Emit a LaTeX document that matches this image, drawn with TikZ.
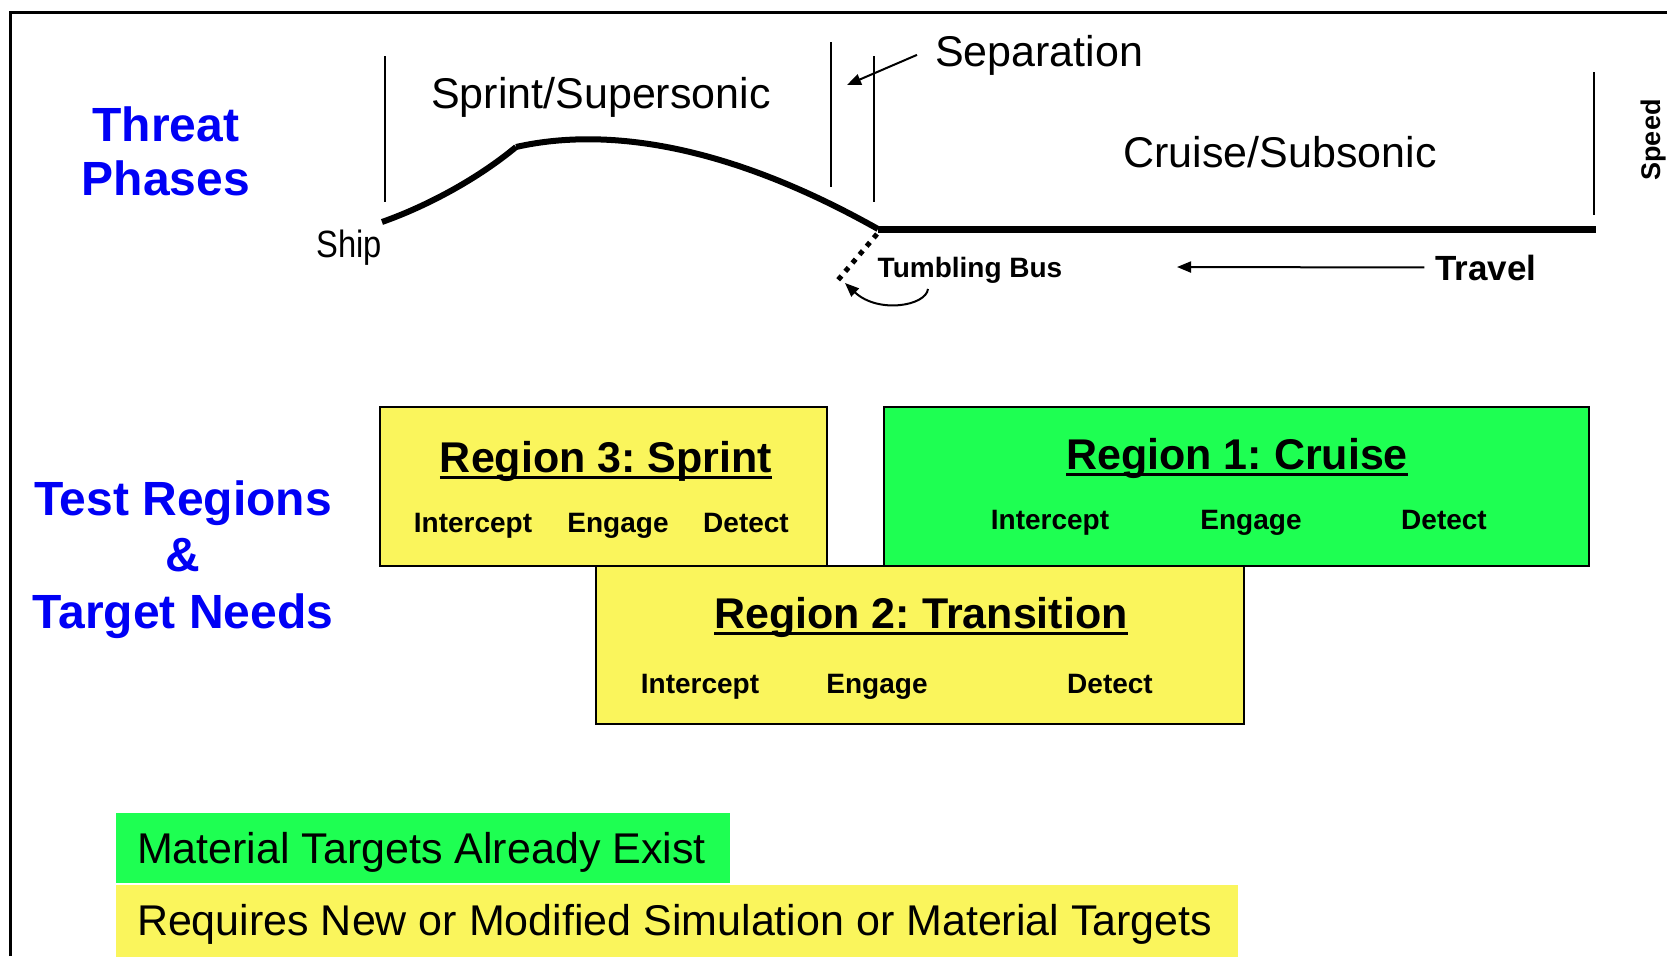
\documentclass[tikz,border=0pt]{standalone}
\usepackage{fontspec}
\setmainfont{Liberation Sans}
\usepackage{graphicx}
\usepackage{tikz}
\usetikzlibrary{arrows.meta}
\frenchspacing
\definecolor{headblue}{RGB}{0,0,245}
\definecolor{cruisegreen}{RGB}{30,255,82}
\definecolor{simyellow}{RGB}{250,245,92}
\newcommand{\phasefont}{\fontsize{43}{52}\selectfont}
\newcommand{\shipfont}{\fontsize{38}{44}\selectfont}
\newcommand{\headfont}{\fontsize{48}{54.5}\selectfont\bfseries}
\newcommand{\titlefont}{\fontsize{43}{52}\selectfont\bfseries}
\newcommand{\taskfont}{\fontsize{28}{34}\selectfont\bfseries}
\newcommand{\travelfont}{\fontsize{35}{42}\selectfont\bfseries}
\newcommand{\speedfont}{\fontsize{27}{32}\selectfont\bfseries}
\newcommand{\thickul}[1]{\setbox0=\hbox{#1}\rlap{\rule[-7pt]{\wd0}{3pt}}\box0}
\tikzstyle{txt}=[inner sep=0, outer sep=0, anchor=base]
\tikzstyle{phase}=[txt, font=\phasefont]
\tikzstyle{heading}=[inner sep=0, outer sep=0, align=center, text=headblue, font=\headfont]
\tikzstyle{marker}=[line width=1.6pt]
\tikzstyle{flight}=[line width=6pt]
\tikzstyle{pointer}=[line width=2pt, -{Triangle[length=14pt, width=11pt]}]
\tikzstyle{region}=[draw, line width=1.5pt, inner sep=0, outer sep=0]
\tikzstyle{regiontitle}=[txt, font=\titlefont]
\tikzstyle{task}=[txt, font=\taskfont]
\tikzstyle{keybox}=[inner sep=0, outer sep=0]

\begin{document}
\begin{tikzpicture}[x=1pt, y={(0pt,-1pt)}]
    \useasboundingbox (0,0) rectangle (1667,956);
    \draw[line width=3pt] (10,956) -- (10,12) -- (1667,12);

    % Row headings.
    \node[heading] (threat) at (166,151.5) {Threat\\Phases};
    \node[heading, font={\fontsize{48}{56.5}\selectfont\bfseries}] (needs) at (183,559.5) {Test Regions\\\&\\Target Needs};

    % Threat phases.
    \node[phase] (sprint)     at (601,108)  {Sprint/Supersonic};
    \node[phase] (separation) at (1039,66)  {Separation};
    \node[phase] (cruise)     at (1280,167) {Cruise/Subsonic};
    \node[txt, font=\shipfont] (ship) at (349,257) {\scalebox{0.86}[1]{Ship}};
    \node[task] (tumbling)    at (970,277)  {Tumbling Bus};
    \node[txt, font=\travelfont] (travel) at (1486,280) {Travel};
    \node[txt, font=\speedfont, rotate=90] (speed) at (1660,140) {Speed};

    \draw[marker] (385,56) -- (385,202);
    \draw[marker] (831,42) -- (831,187);
    \draw[marker] (874,56) -- (874,202);
    \draw[marker] (1594,72) -- (1594,215);

    \coordinate (launch) at (382,222);
    \coordinate (kink)   at (516,147);
    \coordinate (sep)    at (878,229);
    \coordinate (impact) at (1596,229);
    \coordinate (septip) at (847,85);
    \coordinate (bustip) at (845,283);
    \coordinate (traveltip) at (1177,267);
    \draw[flight] (launch) .. controls (430,205) and (480,177) .. (kink);
    \draw[flight] (kink) .. controls (600,128) and (720,140) .. (sep);
    \draw[flight, line width=7pt] (sep) -- (impact);
    \draw[line width=5pt, dash pattern=on 5pt off 6pt] (877,234) -- (838,280);

    \draw[pointer] ([xshift=-18pt]separation.west) -- (septip);
    \draw[pointer] ([xshift=-11pt]travel.west) -- (traveltip);
    \draw[pointer] ([xshift=-42pt,yshift=-6pt]tumbling.south) .. controls (926,306) and (878,314) .. (bustip);

    % Test regions.
    \node[region, fill=simyellow,   minimum width=447pt, minimum height=159pt] (R3) at (603.5,486.5) {};
    \node[region, fill=cruisegreen, minimum width=705pt, minimum height=159pt] (R1) at (1236.5,486.5) {};
    \node[region, fill=simyellow,   minimum width=648pt, minimum height=158pt] (R2) at (920,645) {};

    \node[regiontitle] (R3title) at (606,472)  {\thickul{Region 3: Sprint}};
    \node[task] (R3int) at (473,532) {Intercept};
    \node[task] (R3eng) at (618,532) {Engage};
    \node[task] (R3det) at (746,532) {Detect};

    \node[regiontitle] (R1title) at (1237,469) {\thickul{Region 1: Cruise}};
    \node[task] (R1int) at (1050,529) {Intercept};
    \node[task] (R1eng) at (1251,529) {Engage};
    \node[task] (R1det) at (1444,529) {Detect};

    \node[regiontitle] (R2title) at (921,628)  {\thickul{Region 2: Transition}};
    \node[task] (R2int) at (700,693)  {Intercept};
    \node[task] (R2eng) at (877,693)  {Engage};
    \node[task] (R2det) at (1110,693) {Detect};

    % Legend.
    \node[keybox, fill=cruisegreen, minimum width=614pt,  minimum height=70pt] (key1) at (423,848) {};
    \node[keybox, fill=simyellow,   minimum width=1122pt, minimum height=72pt] (key2) at (677,921) {};
    \node[phase, anchor=base west] (key1text) at (137,863) {Material Targets Already Exist};
    \node[phase, anchor=base west] (key2text) at (137,935) {Requires New or Modified Simulation or Material Targets};
\end{tikzpicture}
\end{document}
